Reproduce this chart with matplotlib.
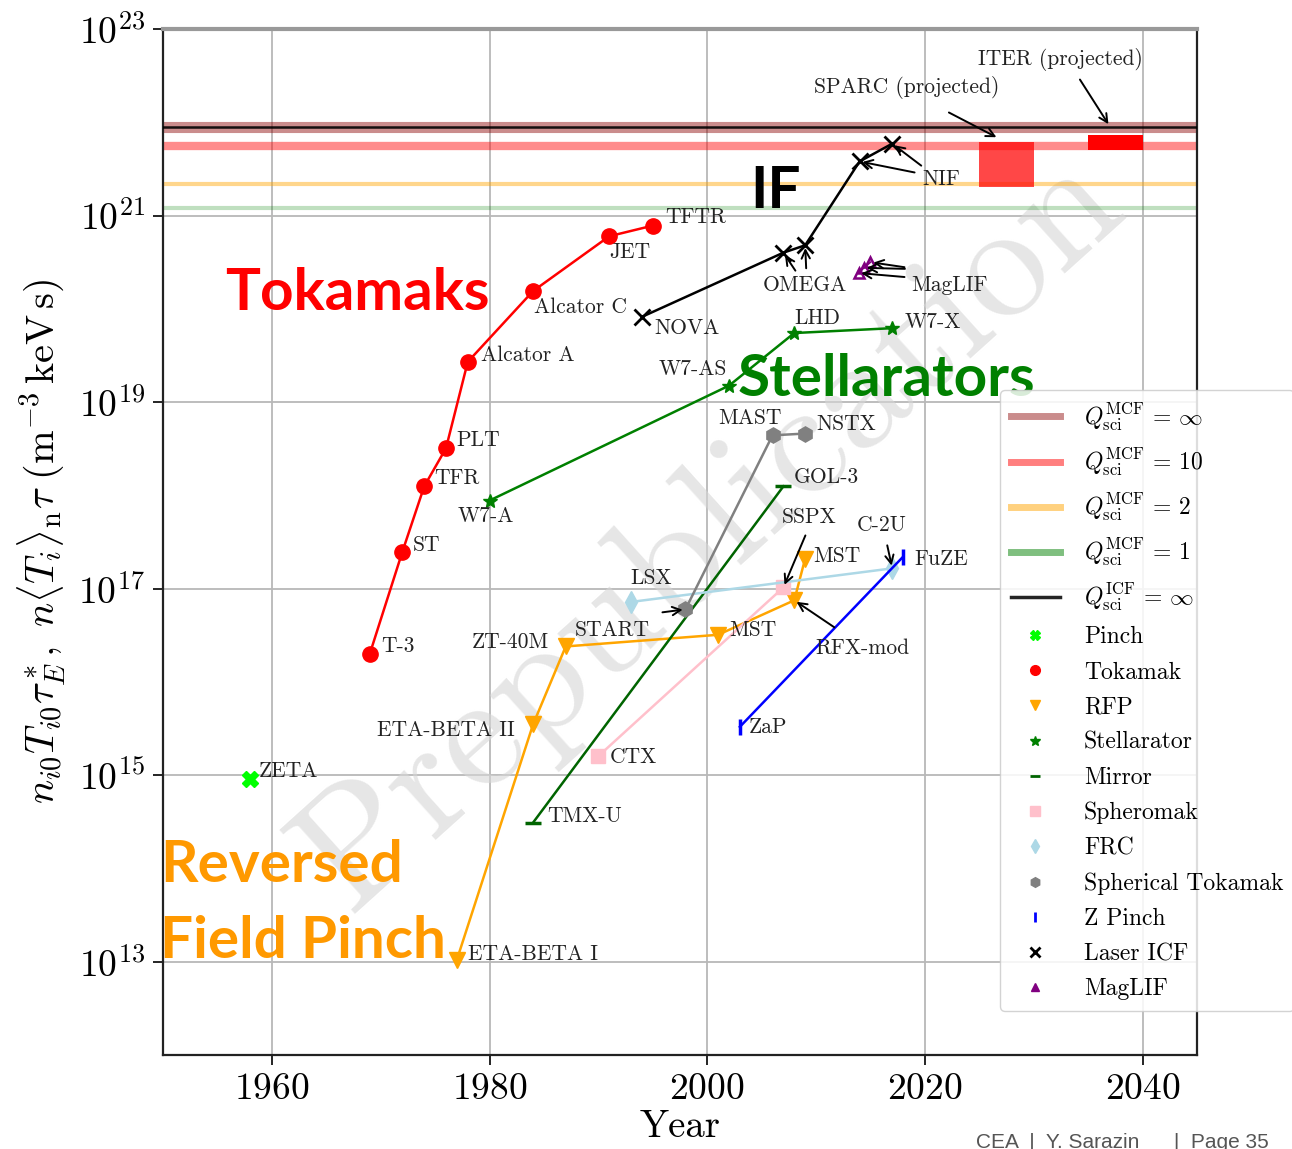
import matplotlib
matplotlib.use('Agg')
import matplotlib.pyplot as plt
from matplotlib.lines import Line2D
from matplotlib.ticker import NullLocator

# ---------------- data ----------------
pinch_names = ['ZETA']
pinch_years = [1958]
pinch_vals = [9.0e14]

tok_names = ['T-3', 'ST', 'TFR', 'PLT', 'Alcator A', 'Alcator C', 'JET', 'TFTR']
tok_years = [1969, 1972, 1974, 1976, 1978, 1984, 1991, 1995]
tok_vals = [2.0e16, 2.5e17, 1.25e18, 3.2e18, 2.7e19, 1.55e20, 6.0e20, 7.8e20]

rfp_names = ['ETA-BETA I', 'ETA-BETA II', 'ZT-40M', 'MST', 'RFX-mod', 'MST']
rfp_years = [1977, 1984, 1987, 2001, 2008, 2009]
rfp_vals = [1.05e13, 3.5e15, 2.4e16, 3.2e16, 7.5e16, 2.1e17]

stel_names = ['W7-A', 'W7-AS', 'LHD', 'W7-X']
stel_years = [1980, 2002, 2008, 2017]
stel_vals = [8.8e17, 1.5e19, 5.5e19, 6.2e19]

mirror_names = ['TMX-U', 'GOL-3']
mirror_years = [1984, 2007]
mirror_vals = [3.1e14, 1.25e18]

sph_names = ['CTX', 'SSPX']
sph_years = [1990, 2007]
sph_vals = [1.6e15, 1.03e17]

frc_names = ['LSX', 'C-2U']
frc_years = [1993, 2017]
frc_vals = [7.2e16, 1.65e17]

st_names = ['START', 'MAST', 'NSTX']
st_years = [1998, 2006, 2009]
st_vals = [6.0e16, 4.4e18, 4.6e18]

zp_names = ['ZaP', 'FuZE']
zp_years = [2003, 2018]
zp_vals = [3.3e15, 2.2e17]

icf_names = ['NOVA', 'OMEGA', 'OMEGA', 'NIF', 'NIF']
icf_years = [1994, 2007, 2009, 2014, 2017]
icf_vals = [8.2e19, 4.0e20, 4.8e20, 3.8e21, 5.9e21]

maglif_years = [2013.9, 2014.4, 2015.0]
maglif_vals = [2.42e20, 2.75e20, 3.16e20]

q_labels = [r'$Q_{\rm sci}^{\rm MCF}\,=\,\infty$', r'$Q_{\rm sci}^{\rm MCF}\,=\,10$',
            r'$Q_{\rm sci}^{\rm MCF}\,=\,2$', r'$Q_{\rm sci}^{\rm MCF}\,=\,1$',
            r'$Q_{\rm sci}^{\rm ICF}\,=\,\infty$']
q_vals = [9.0e21, 5.6e21, 2.2e21, 1.2e21, 9.0e21]

sparc_years = [2025, 2030]
sparc_range = [2.0e21, 6.2e21]
iter_years = [2035, 2040]
iter_range = [5.0e21, 7.3e21]

category_labels = ['Pinch', 'Tokamak', 'RFP', 'Stellarator', 'Mirror', 'Spheromak',
                   'FRC', 'Spherical Tokamak', 'Z Pinch', 'Laser ICF', 'MagLIF']

# ---------------- style ----------------
plt.rcParams['font.family'] = 'serif'
plt.rcParams['font.serif'] = ['cmr10']
plt.rcParams['mathtext.fontset'] = 'cm'
plt.rcParams['axes.unicode_minus'] = False
plt.rcParams['axes.formatter.use_mathtext'] = True

W, H = 1292, 1149
fig = plt.figure(figsize=(W / 100, H / 100), dpi=100)
ax = fig.add_axes([163 / W, 94 / H, 1034 / W, 1026 / H])
ax.set_yscale('log')
ax.set_xlim(1950, 2045)
ax.set_ylim(1e12, 1e23)
ax.set_xticks([1960, 1980, 2000, 2020, 2040])
ax.set_yticks([1e13, 1e15, 1e17, 1e19, 1e21, 1e23])
ax.yaxis.set_minor_locator(NullLocator())
ax.grid(True, color='#b8b8b8', lw=1.3)
ax.set_axisbelow(True)
ax.tick_params(labelsize=27, length=7, width=1.2, direction='out', pad=6)
for s in ['left', 'bottom', 'right']:
    ax.spines[s].set_linewidth(1.6)
    ax.spines[s].set_color('#222222')
ax.spines['top'].set_color('#999999')
ax.spines['top'].set_linewidth(3)

ax.set_xlabel('Year', fontsize=28, labelpad=2)
ax.set_ylabel(r'$n_{i0} T_{i0} \tau_E^*,\ n \langle T_i \rangle_{\rm n} \tau\ ({\rm m}^{-3}\,{\rm keV\,s})$',
              fontsize=29, labelpad=8)

# watermark
ax.text(0.53, 0.51, 'Prepublication', transform=ax.transAxes, rotation=42,
        fontsize=118, color='#d6d6d6', alpha=0.6, ha='center', va='center', zorder=1)

# Q lines
ax.axhline(q_vals[0], color='darkred', alpha=0.45, lw=8, zorder=2)
ax.axhline(q_vals[1], color='red', alpha=0.45, lw=6, zorder=2)
ax.axhline(q_vals[2], color='orange', alpha=0.45, lw=3, zorder=2)
ax.axhline(q_vals[3], color='green', alpha=0.25, lw=3, zorder=2)
ax.axhline(q_vals[4], color='black', alpha=0.9, lw=1.8, zorder=3)

# projected
ax.fill_between(sparc_years, sparc_range[0], sparc_range[1], color='red', alpha=0.72, lw=0, zorder=3)
ax.fill_between(iter_years, iter_range[0], iter_range[1], color='red', alpha=1.0, lw=0, zorder=3)

# series
lw = 1.8
ax.plot(pinch_years, pinch_vals, ls='none', marker='X', color='lime', ms=11, zorder=6)
ax.plot(tok_years, tok_vals, '-', marker='o', color='red', ms=11, lw=lw, zorder=6)
ax.plot(rfp_years, rfp_vals, '-', marker='v', color='orange', ms=11, lw=lw, zorder=6)
ax.plot(stel_years, stel_vals, '-', marker='*', color='green', ms=10, lw=lw, zorder=6)
ax.plot(mirror_years, mirror_vals, '-', marker='_', color='darkgreen', ms=11, mew=2.5, lw=lw, zorder=6)
ax.plot(sph_years, sph_vals, '-', marker='s', color='pink', ms=10, lw=lw, zorder=6)
ax.plot(frc_years, frc_vals, '-', marker='d', color='lightblue', ms=11, lw=lw, zorder=6)
ax.plot(st_years, st_vals, '-', marker='h', color='gray', ms=11, lw=lw, zorder=6)
ax.plot(zp_years, zp_vals, '-', marker='|', color='blue', ms=12, mew=2.5, lw=lw, zorder=6)
ax.plot(icf_years, icf_vals, '-', marker='x', color='black', ms=11, mew=2, lw=lw, zorder=6)
ax.plot(maglif_years, maglif_vals, '-', marker='^', color='purple', ms=7, lw=1.2,
        mfc='none', mew=1.8, zorder=6)

LFS = 15.5


def label(name, x, y, dx, dy, ha='left'):
    ax.annotate(name, xy=(x, y), xytext=(dx, dy), textcoords='offset pixels',
                ha=ha, va='center', fontsize=LFS, color='#222222', zorder=8)


def arrow(x, y, dx, dy):
    ax.annotate('', xy=(x, y), xytext=(dx, dy), textcoords='offset pixels',
                arrowprops=dict(arrowstyle='->', color='black', lw=1.4,
                                shrinkA=0, shrinkB=2, mutation_scale=15), zorder=8)


# label offsets (pixels)
tok_off = [(11, 8), (10, 6), (10, 8), (10, 8), (13, 7), (1, -16), (0, -16), (12, 8)]
for n, x, y, o in zip(tok_names, tok_years, tok_vals, tok_off):
    label(n, x, y, *o)
label(pinch_names[0], pinch_years[0], pinch_vals[0], 9, 8)

rfp_off = [(11, 6, 'left'), (-18, -6, 'right'), (-17, 4, 'right'), (11, 5, 'left'),
           (21, -48, 'left'), (8, 2, 'left')]
for n, x, y, o in zip(rfp_names, rfp_years, rfp_vals, rfp_off):
    label(n, x, y, o[0], o[1], o[2])

stel_off = [(-32, -16, 'left'), (-2, 16, 'right'), (0, 15, 'left'), (12, 6, 'left')]
for n, x, y, o in zip(stel_names, stel_years, stel_vals, stel_off):
    label(n, x, y, o[0], o[1], o[2])

label(mirror_names[0], mirror_years[0], mirror_vals[0], 14, 6)
label(mirror_names[1], mirror_years[1], mirror_vals[1], 10, 9)
label(sph_names[0], sph_years[0], sph_vals[0], 11, -1)
label(sph_names[1], sph_years[1], sph_vals[1], -2, 70)
label(frc_names[0], frc_years[0], frc_vals[0], -1, 24)
label(frc_names[1], frc_years[1], frc_vals[1], -35, 43)
label(st_names[0], st_years[0], st_vals[0], -111, -21)
label(st_names[1], st_years[1], st_vals[1], -54, 17)
label(st_names[2], st_years[2], st_vals[2], 11, 9)
label(zp_names[0], zp_years[0], zp_vals[0], 9, 0)
label(zp_names[1], zp_years[1], zp_vals[1], 11, -3)
label(icf_names[0], icf_years[0], icf_vals[0], 12, -11)
label(icf_names[1], icf_years[1], icf_vals[1], -21, -33)
label(icf_names[3], icf_years[3], icf_vals[3], 63, -18)
label('MagLIF', maglif_years[0], maglif_vals[0], 53, -12)
label('SPARC (projected)', 2026.8, 6.7e21, -185, 51)
label('ITER (projected)', 2037.0, 9.0e21, -132, 67)

# arrows
arrow(icf_years[3], icf_vals[3], 55, -11)
arrow(icf_years[4], icf_vals[4], 29, -22)
arrow(icf_years[1], icf_vals[1], 12, -18)
arrow(icf_years[2], icf_vals[2], 1, -23)
for x, y, t in zip(maglif_years, maglif_vals, [(46, -4), (41, -1), (34, -5)]):
    arrow(x, y, *t)
arrow(st_years[0], st_vals[0], -23, -3)
arrow(sph_years[1], sph_vals[1], 22, 52)
arrow(frc_years[1], frc_vals[1], -5, 23)
arrow(rfp_years[4], rfp_vals[4], 40, -27)
arrow(2026.8, 6.7e21, -50, 26)
arrow(2037.0, 9.0e21, -30, 47)

# big category captions
big = dict(family='Lato', fontweight='bold', fontsize=42, transform=fig.transFigure,
           va='baseline', ha='left')
fig.text(225 / W, 1 - 310 / H, 'Tokamaks', color='#ff0000', **big)
fig.text(750 / W, 1 - 208 / H, 'IF', color='black', **big)
fig.text(738 / W, 1 - 396 / H, 'Stellarators', color='#008000', **big)
fig.text(160 / W, 1 - 882 / H, 'Reversed', color='#ff9900', **big)
fig.text(160 / W, 1 - 958 / H, 'Field Pinch', color='#ff9900', **big)

# legend
handles = [
    Line2D([], [], color='darkred', alpha=0.45, lw=5),
    Line2D([], [], color='red', alpha=0.5, lw=5),
    Line2D([], [], color='orange', alpha=0.5, lw=5),
    Line2D([], [], color='green', alpha=0.5, lw=5),
    Line2D([], [], color='black', alpha=0.85, lw=2.5),
    Line2D([], [], ls='none', marker='X', color='lime', ms=7),
    Line2D([], [], ls='none', marker='o', color='red', ms=7),
    Line2D([], [], ls='none', marker='v', color='orange', ms=7),
    Line2D([], [], ls='none', marker='*', color='green', ms=7),
    Line2D([], [], ls='none', marker='_', color='darkgreen', ms=7, mew=2),
    Line2D([], [], ls='none', marker='s', color='pink', ms=7),
    Line2D([], [], ls='none', marker='d', color='lightblue', ms=7),
    Line2D([], [], ls='none', marker='h', color='gray', ms=7),
    Line2D([], [], ls='none', marker='|', color='blue', ms=7, mew=2),
    Line2D([], [], ls='none', marker='x', color='black', ms=7, mew=2),
    Line2D([], [], ls='none', marker='^', color='purple', ms=6),
]
labels = q_labels + category_labels
leg = fig.legend(handles, labels, loc='upper left', bbox_to_anchor=(1000 / W, 1 - 390 / H),
                 fontsize=17, frameon=True, fancybox=True, framealpha=0.85,
                 edgecolor='#cccccc', handlelength=2.1, labelspacing=0.55,
                 borderpad=0.45, handletextpad=1.0, borderaxespad=0)
leg.set_zorder(10)

fig.text(976 / W, 1 - 1142 / H, 'CEA  |  Y. Sarazin      |  Page 35', family='Liberation Sans',
         fontsize=15, color='#555555', va='center', ha='left')

fig.savefig('out.png', dpi=100)
